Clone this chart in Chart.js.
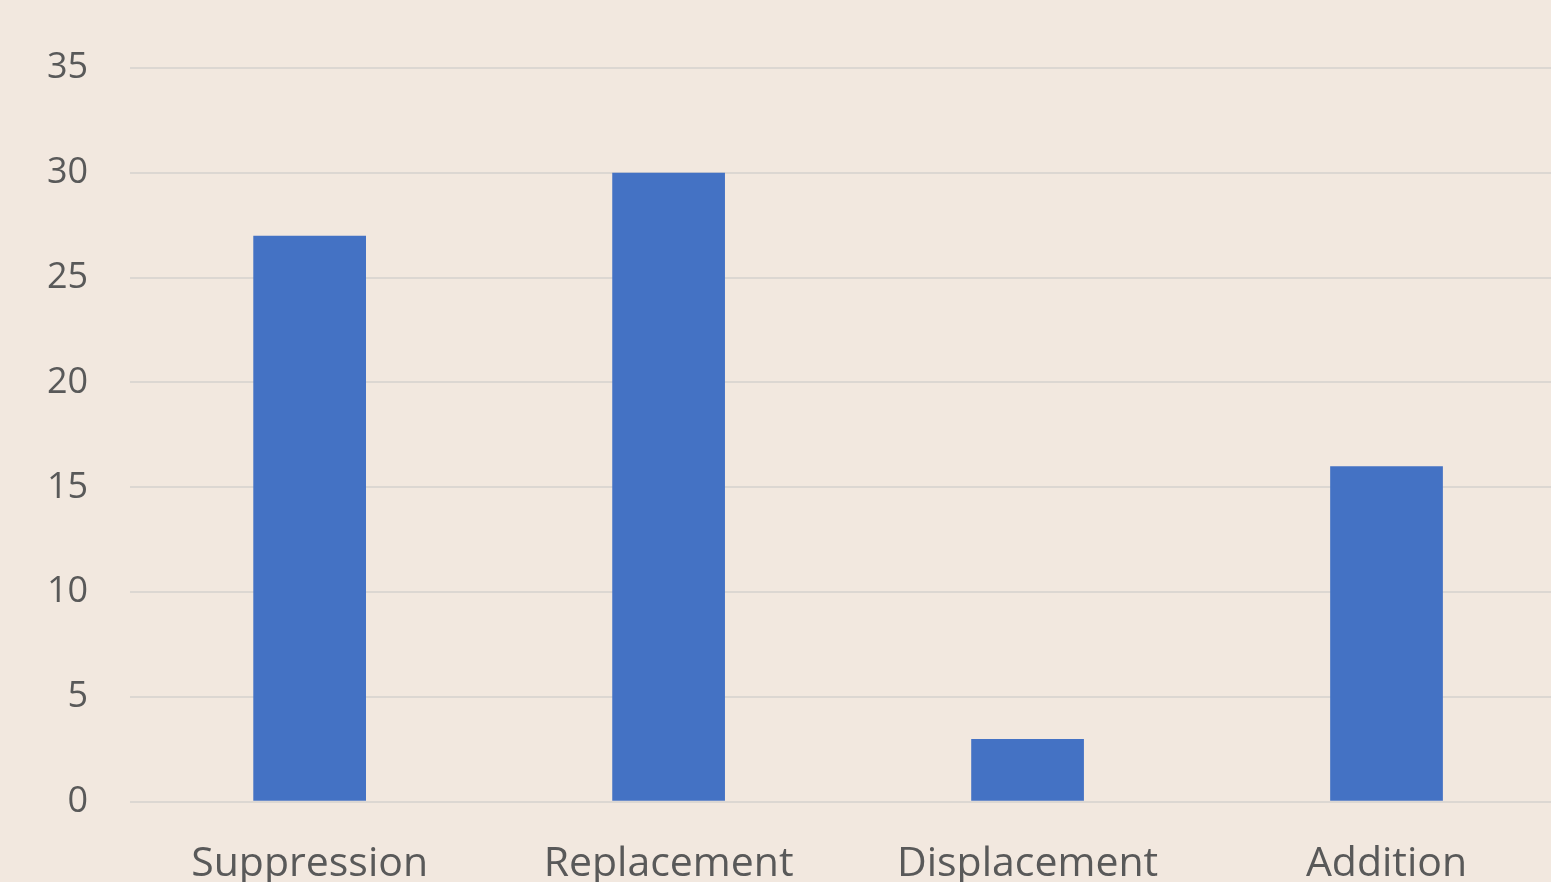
<!DOCTYPE html>
<html>
<head>
<meta charset="utf-8">
<script src="https://cdn.jsdelivr.net/npm/chart.js@4"></script>
<style>
  html, body { margin: 0; padding: 0; overflow: hidden; background: #f2e8df; }
  #wrap { width: 1566px; height: 930px; }
</style>
</head>
<body>
<div id="wrap"><canvas id="bar-chart"></canvas></div>
<script>
const categories = ["Suppression", "Replacement", "Displacement", "Addition"];
const counts = [27, 30, 3, 16];
const yTicks = [0, 5, 10, 15, 20, 25, 30, 35];

new Chart(document.getElementById("bar-chart"), {
    type: 'bar',
    data: {
        labels: categories,
        datasets: [{
            data: counts,
            backgroundColor: "#4472c4",
            categoryPercentage: 1,
            barPercentage: 0.314
        }]
    },
    options: {
        responsive: true,
        maintainAspectRatio: false,
        animation: false,
        layout: { padding: { top: 68, left: 5, right: 0, bottom: 3 } },
        plugins: { legend: { display: false }, tooltip: { enabled: false } },
        scales: {
            x: {
                grid: { display: false, drawTicks: false },
                border: { display: false },
                ticks: {
                    color: "#595959",
                    font: { family: "Open Sans", size: 41 },
                    padding: 38,
                    maxRotation: 0
                }
            },
            y: {
                min: 0,
                max: 35,
                afterBuildTicks: (axis) => { axis.ticks = yTicks.map(v => ({ value: v })); },
                grid: { color: "#dcd7d2", lineWidth: 2, drawTicks: false },
                border: { display: false },
                ticks: {
                    color: "#595959",
                    font: { family: "Open Sans", size: 36 },
                    padding: 42
                }
            }
        }
    }
});
</script>
</body>
</html>
